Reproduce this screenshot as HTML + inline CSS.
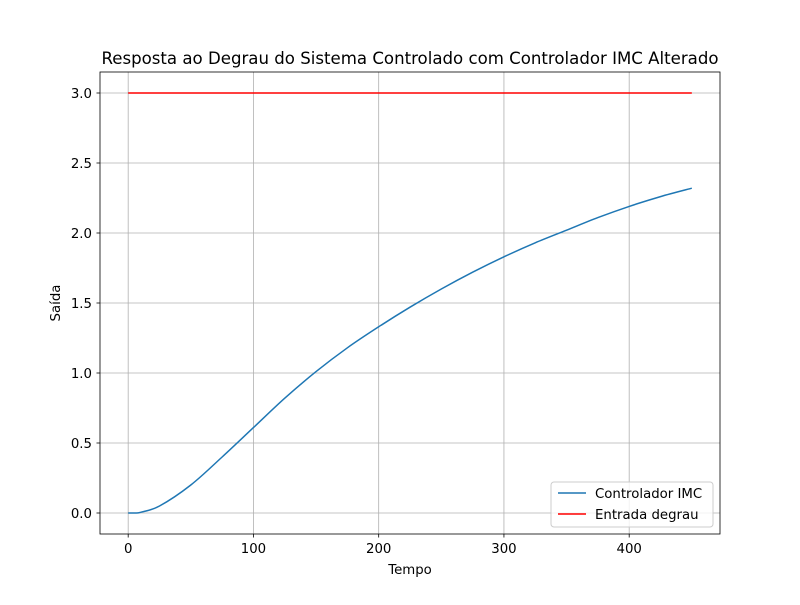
<!DOCTYPE html>
<html><head><meta charset="utf-8"><style>
body{margin:0;background:#fff}
text{font-family:"DejaVu Sans","Liberation Sans",sans-serif;fill:#000}
</style></head><body>
<svg id="chart" width="800" height="600" xmlns="http://www.w3.org/2000/svg">
<rect width="800" height="600" fill="#fff"/>
<text x="410" y="64" font-size="16.6" text-anchor="middle">Resposta ao Degrau do Sistema Controlado com Controlador IMC Alterado</text>
<g id="grid"></g>
<g id="series"></g>
<rect x="100" y="72" width="620" height="462" fill="none" stroke="#000" stroke-width="0.8"/>
<g id="ticks"></g>
<text x="410" y="574" font-size="13.3" text-anchor="middle">Tempo</text>
<text transform="translate(60,303) rotate(-90)" font-size="13.3" text-anchor="middle">Saída</text>
<g>
<rect x="551" y="482" width="162" height="45" rx="3" fill="#fff" fill-opacity="0.8" stroke="#ccc"/>
<line x1="558" y1="493" x2="586" y2="493" stroke="#1f77b4" stroke-width="1.5"/>
<text x="595" y="498" font-size="13.3">Controlador IMC</text>
<line x1="558" y1="514" x2="586" y2="514" stroke="#ff0000" stroke-width="1.5"/>
<text x="595" y="519" font-size="13.3">Entrada degrau</text>
</g>
</svg>
<script>
const times=[0,5,10,25,50,75,100,125,150,175,200,225,250,275,300,325,350,375,400,425,450];
const outputs=[0,0,0.005,0.05,0.2,0.4,0.61,0.82,1.01,1.18,1.33,1.47,1.6,1.72,1.83,1.93,2.02,2.11,2.19,2.26,2.32];
const stepTimes=[0,450];
const stepValues=[3,3];
const xTicks=[0,100,200,300,400];
const yTicks=[0,0.5,1,1.5,2,2.5,3];
const X=v=>100+(v+22.5)*620/495;
const Y=v=>534-(v+0.15)*462/3.3;
const NS="http://www.w3.org/2000/svg";
const grid=document.getElementById('grid'),ticks=document.getElementById('ticks'),series=document.getElementById('series');
function mk(t,a,p){const e=document.createElementNS(NS,t);for(const k in a)e.setAttribute(k,a[k]);p.appendChild(e);return e;}
xTicks.forEach(v=>{
 const g=mk('line',{x1:X(v),x2:X(v),y1:72,y2:534,stroke:'#b0b0b0','stroke-width':0.8},grid);
 
 
 mk('line',{x1:X(v),x2:X(v),y1:534,y2:537.5,stroke:'#000','stroke-width':0.8},ticks);
 const t=mk('text',{x:X(v),y:553,'font-size':13.3,'text-anchor':'middle'},ticks);t.textContent=v;
 
 
});
yTicks.forEach(v=>{
 const g=mk('line',{x1:100,x2:720,y1:Y(v),y2:Y(v),stroke:'#b0b0b0','stroke-width':0.8},grid);
 
 
 mk('line',{x1:96.5,x2:100,y1:Y(v),y2:Y(v),stroke:'#000','stroke-width':0.8},ticks);
 const t=mk('text',{x:92,y:Y(v)+5,'font-size':13.3,'text-anchor':'end'},ticks);t.textContent=v.toFixed(1);
 
 
});
// smooth Catmull-Rom path through data points
const pts=times.map((t,i)=>[X(t),Y(outputs[i])]);
let d='M'+pts[0][0]+','+pts[0][1];
for(let i=0;i<pts.length-1;i++){
 const p0=pts[Math.max(i-1,0)],p1=pts[i],p2=pts[i+1],p3=pts[Math.min(i+2,pts.length-1)];
 const c1=[p1[0]+(p2[0]-p0[0])/6,p1[1]+(p2[1]-p0[1])/6];
 const c2=[p2[0]-(p3[0]-p1[0])/6,p2[1]-(p3[1]-p1[1])/6];
 d+=' C'+c1+' '+c2+' '+p2;
}
const l1=mk('path',{d:d,fill:'none',stroke:'#1f77b4','stroke-width':1.5},series);


const l2=mk('polyline',{points:stepTimes.map((t,i)=>X(t)+','+Y(stepValues[i])).join(' '),fill:'none',stroke:'#ff0000','stroke-width':1.5},series);


</script>
</body></html>
